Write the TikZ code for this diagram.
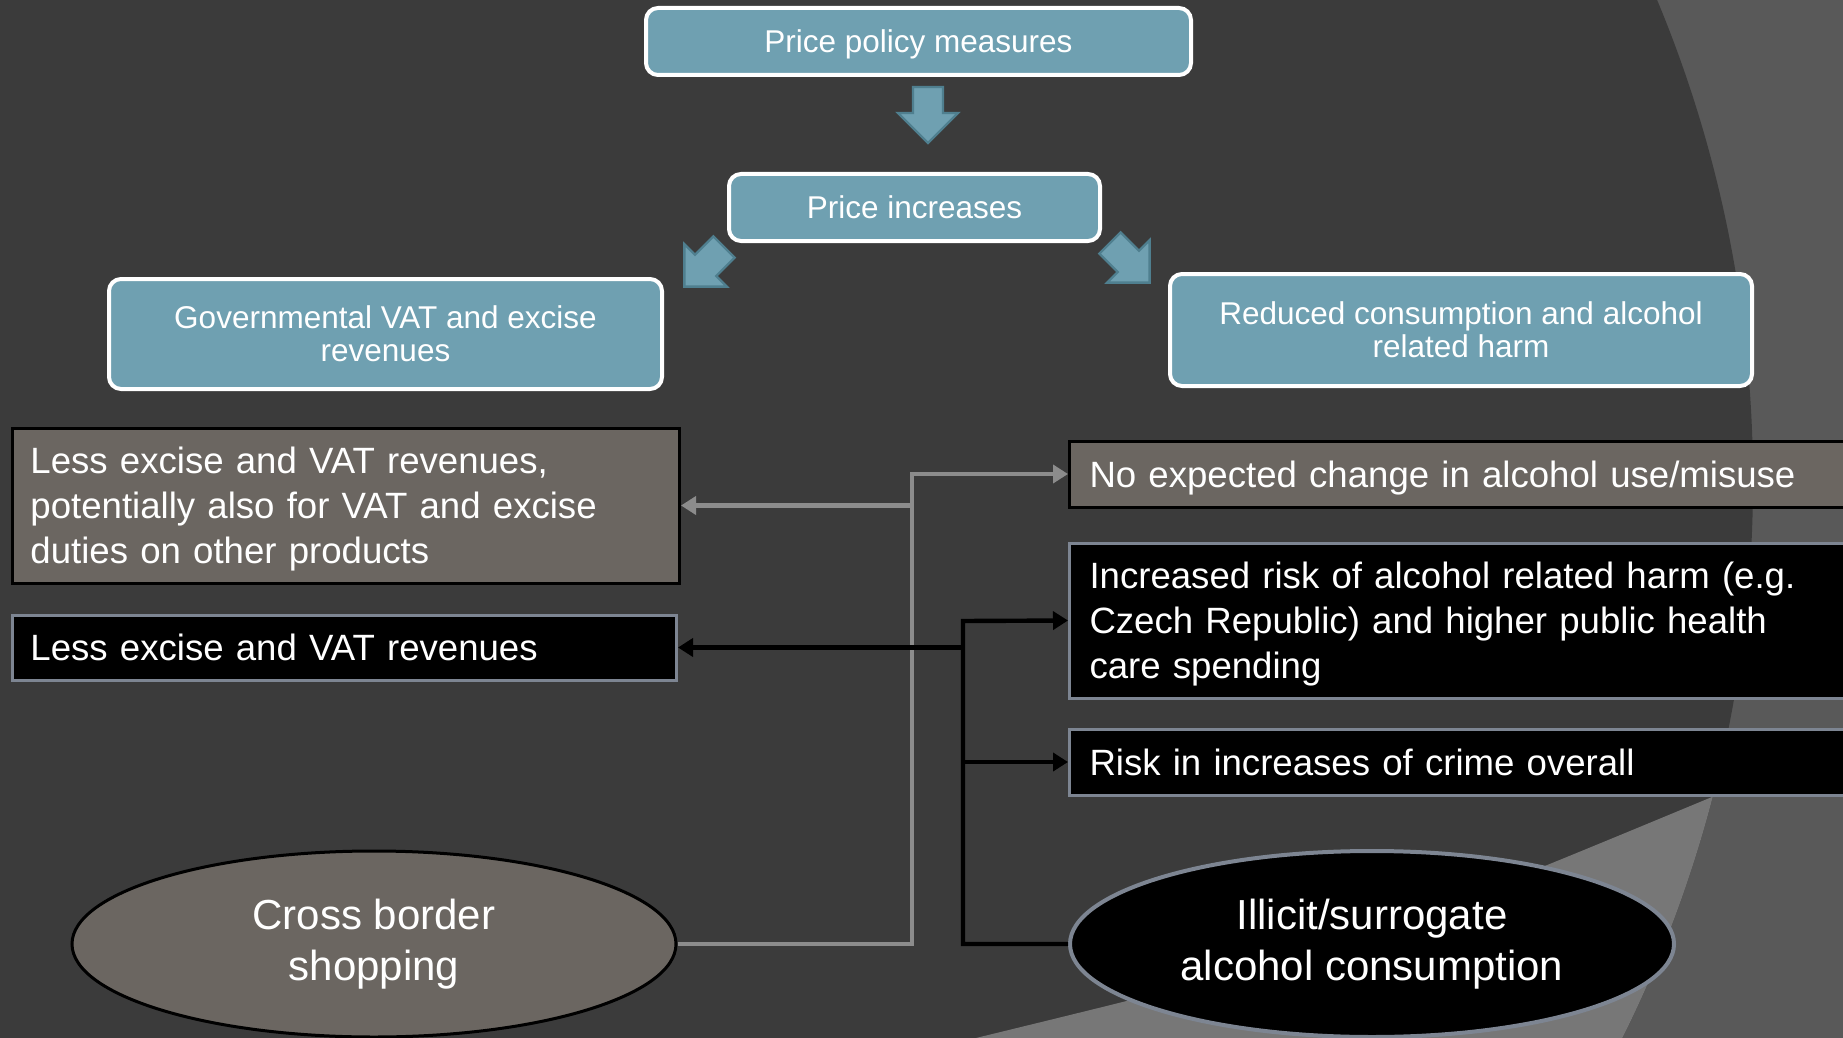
\documentclass[tikz,border=0pt]{standalone}
\usepackage{fontspec}
\setmainfont{Liberation Sans}
\usetikzlibrary{arrows.meta,shapes.geometric}
\definecolor{bgdark}{HTML}{3B3B3B}
\definecolor{bgmid}{HTML}{595959}
\definecolor{bglight}{HTML}{777777}
\definecolor{tealfill}{HTML}{6FA0B1}
\definecolor{tealedge}{HTML}{4F7F8F}
\definecolor{warmgray}{HTML}{6B6661}
\definecolor{slateedge}{HTML}{7D8592}
\definecolor{connector}{HTML}{8C8C8C}
\tikzset{%
  pics/blockarrow/.style={code={%
      % shaft and head, pointing along +x
      \filldraw[fill=tealfill, draw=tealedge, line width=1.2pt]
        (0pt,-7.5pt) -- (13pt,-7.5pt) -- (13pt,-15pt) -- (28pt,0pt)
        -- (13pt,15pt) -- (13pt,7.5pt) -- (0pt,7.5pt) -- cycle;
    }
  },
  tealbox/.style={draw=white, line width=2pt, fill=tealfill, rounded corners=6pt,
    text=white, align=center, inner sep=0pt, text depth=0pt,
    font=\fontsize{15.75}{16.5}\selectfont},
  flatbox/.style={line width=1.5pt, text=white, align=left, inner ysep=0pt,
    text depth=0pt, font=\fontsize{18.3}{22.6}\selectfont},
  % three lines: depth of two line steps, descenders left out
  threeline/.style={text depth=45.2pt},
  greybox/.style={flatbox, draw=black, fill=warmgray},
  blackbox/.style={flatbox, draw=slateedge, fill=black},
  oval/.style={ellipse, inner sep=0pt, minimum width=302pt, minimum height=93pt,
    line width=1.5pt, text=white, align=center, font=\fontsize{21}{25.5}\selectfont},
  link/.style={line width=2.2pt, -{Triangle[length=7.5pt,width=9pt]}},
}
\begin{document}
\begin{tikzpicture}[x=0.5pt,y=-0.5pt]
  \useasboundingbox (0,0) rectangle (1843,1038);
  \clip (0,0) rectangle (1843,1038);
  % background
  \fill[bgmid] (0,0) rectangle (1843,1038);
  \fill[bgdark] (503,481) circle[radius=625pt];
  \begin{scope}
    \clip (503,481) circle[radius=625pt];
    \fill[bglight] (1712,797) .. controls (1353,946) .. (976,1038)
      -- (1843,1038) -- (1843,797) -- cycle;
  \end{scope}
  % top part
  \node[tealbox, minimum width=272.5pt, minimum height=33.5pt] (measures)
    at (918.5,41.5) {Price policy measures};
  \node[tealbox, minimum width=185.5pt, minimum height=33.5pt] (increases)
    at (914.5,207.5) {Price increases};
  \node[tealbox, minimum width=276.5pt, minimum height=55pt] (revenues)
    at (385.5,334) {Governmental VAT and excise\\revenues};
  \node[tealbox, minimum width=291pt, minimum height=56pt] (harm)
    at (1461,330) {Reduced consumption and alcohol\\related harm};
  \pic[rotate=-90] at (928,87) {blockarrow};
  \pic[rotate=-135] at (724,247) {blockarrow};
  \pic[rotate=-45] at (1110,243) {blockarrow};
  % effects
  \node[greybox, threeline, anchor=west, inner xsep=9pt, text width=315.5pt, minimum height=77.5pt]
    (lessall) at (11,505.5)
    {Less excise and VAT revenues,\\potentially also for VAT and excise\\duties on other products};
  \node[blackbox, anchor=west, inner xsep=9pt, text width=314pt, minimum height=32.5pt]
    (lessvat) at (11,647.5) {Less excise and VAT revenues};
  \node[greybox, anchor=west, inner xsep=10pt, text width=396pt, minimum height=33pt]
    (nochange) at (1068,474) {No expected change in alcohol use/misuse};
  \node[blackbox, threeline, anchor=west, inner xsep=10pt, text width=396pt, minimum height=77.5pt]
    (riskharm) at (1068,620.5)
    {Increased risk of alcohol related harm (e.g.\\Czech Republic) and higher public health\\care spending};
  \node[blackbox, anchor=west, inner xsep=10pt, text width=396pt, minimum height=33pt]
    (crime) at (1068,762) {Risk in increases of crime overall};
  % causes
  \node[oval, draw=black, fill=warmgray] (crossborder) at (374,944) {Cross border\\shopping};
  \node[oval, draw=slateedge, fill=black, line width=2pt] (illicit) at (1372,944)
    {Illicit/surrogate\\alcohol consumption};
  % connectors
  \coordinate (greyjoin) at (912,474);
  \draw[link, draw=connector] (crossborder.east) -| (greyjoin) -- (nochange.west);
  \draw[link, draw=connector] (greyjoin |- lessall.east) -- (lessall.east);
  \coordinate (blackjoin) at (963,621);
  \draw[link, draw=black] (illicit.west) -| (blackjoin) -- (riskharm.west);
  \draw[link, draw=black] (blackjoin |- lessvat.east) -- (lessvat.east);
  \draw[link, draw=black] (blackjoin |- crime.west) -- (crime.west);
\end{tikzpicture}
\end{document}
